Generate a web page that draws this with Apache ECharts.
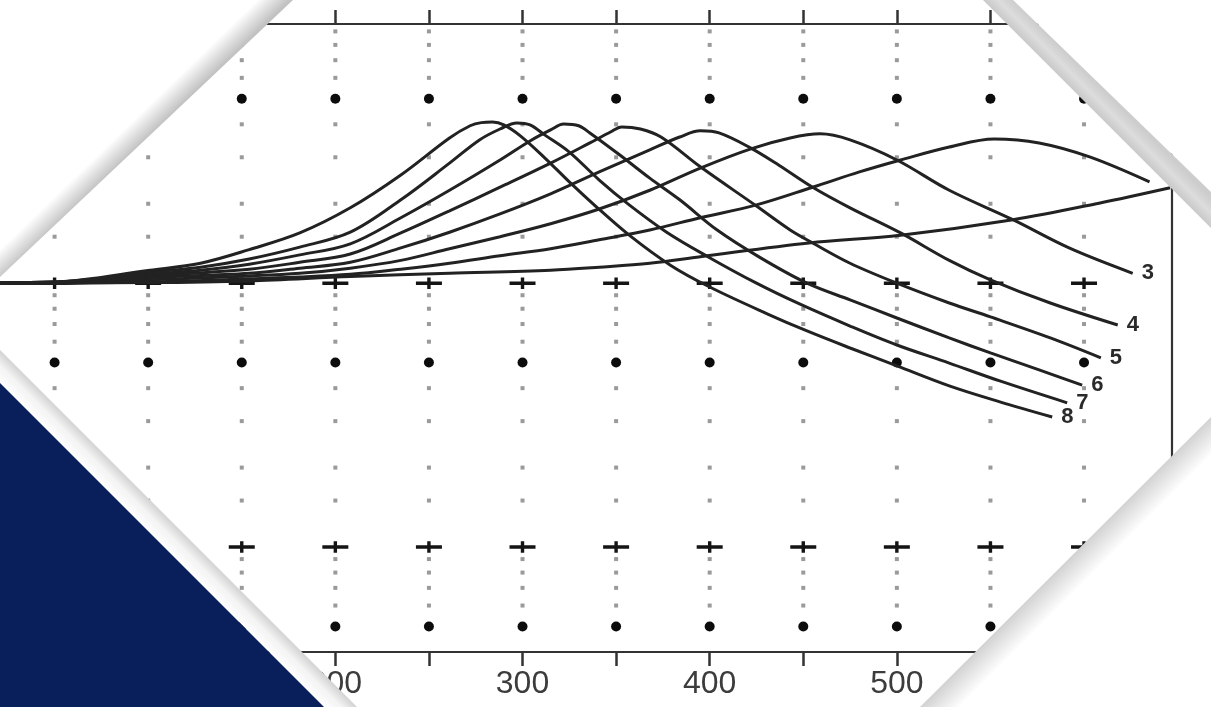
<!DOCTYPE html>
<html><head><meta charset="utf-8">
<script src="https://cdn.jsdelivr.net/npm/echarts@6/dist/echarts.min.js"></script>
<style>html,body{margin:0;padding:0;background:#fff}#c{width:1211px;height:707px}</style>
</head><body><div id="c"></div>
<script>
// ---- data (x, ratio on log scale) ----
const curve1 = [[0,1],[100,1.005],[154,1.02],[208,1.06],[261,1.09],[315,1.12],[341,1.15],[368,1.19],[395,1.26],[453,1.42],[502,1.52],[562,1.74],[608,2.01],[646,2.30]];
const curve2 = [[0,1],[100,1.01],[154,1.04],[181,1.055],[208,1.08],[235,1.13],[261,1.19],[288,1.27],[315,1.35],[341,1.46],[368,1.59],[395,1.77],[425,1.98],[455,2.31],[480,2.64],[502,2.93],[528,3.28],[552,3.52],[576,3.40],[603,3.01],[635,2.42]];
const curve3 = [[0,1],[50,1.0],[101,1.03],[154,1.065],[181,1.09],[208,1.14],[235,1.22],[261,1.35],[288,1.50],[315,1.68],[341,1.91],[368,2.25],[395,2.73],[422,3.23],[443,3.55],[459,3.68],[475,3.49],[500,2.93],[528,2.25],[562,1.74],[592,1.36],[626,1.09]];
const curve4 = [[0,1],[50,1.0],[101,1.05],[154,1.09],[181,1.14],[208,1.20],[235,1.36],[261,1.56],[288,1.83],[315,2.18],[341,2.64],[368,3.20],[384,3.58],[395,3.78],[405,3.71],[422,3.25],[437,2.80],[455,2.31],[475,1.93],[502,1.55],[528,1.22],[550,1.03],[582,0.841],[618,0.694]];
const curve5 = [[0,1],[50,1.0],[101,1.065],[154,1.13],[181,1.20],[208,1.29],[235,1.55],[261,1.88],[288,2.31],[315,2.85],[336,3.40],[347,3.74],[353,3.91],[363,3.84],[374,3.58],[395,2.76],[425,1.96],[443,1.59],[455,1.42],[475,1.19],[500,1.00],[528,0.841],[550,0.745],[582,0.620],[609,0.521]];
const curve6 = [[0,1],[50,1.01],[101,1.08],[128,1.12],[154,1.18],[181,1.28],[208,1.41],[235,1.77],[261,2.25],[288,2.93],[304,3.46],[315,3.81],[322,4.01],[330,3.95],[336,3.71],[352,3.06],[368,2.50],[384,2.07],[404,1.59],[427,1.25],[452,1.00],[475,0.864],[500,0.738],[528,0.620],[550,0.544],[576,0.469],[599,0.411]];
const curve7 = [[0,1],[50,1.01],[101,1.10],[128,1.15],[154,1.235],[181,1.37],[208,1.56],[235,2.07],[261,2.85],[277,3.49],[288,3.84],[297,4.05],[304,3.98],[312,3.64],[325,3.14],[341,2.46],[357,1.98],[377,1.56],[399,1.26],[425,1.00],[448,0.834],[475,0.688],[500,0.583],[528,0.498],[555,0.426],[591,0.352]];
const curve8 = [[0,1],[50,1.01],[101,1.12],[128,1.19],[154,1.34],[181,1.55],[208,1.93],[235,2.57],[261,3.55],[272,3.95],[278,4.06],[284,4.08],[290,3.98],[299,3.61],[312,2.98],[325,2.42],[339,1.96],[357,1.52],[379,1.17],[400,0.967],[431,0.764],[452,0.659],[475,0.568],[500,0.486],[528,0.408],[555,0.355],[583,0.311]];
const curveNames = ['1','2','3','4','5','6','7','8'];
const labelledCurves = ['3','4','5','6','7','8'];

// grid marks
const gridX = [50,100,150,200,250,300,350,400,450,500,550,600];
const minorDotY = [0.06,0.07,0.08,0.09,0.15,0.2,0.3,0.4,0.6,0.7,0.8,0.9,1.5,2,3,4,6,7,8,9];
const majorDotY = [0.05,0.5,5];
const crossY = [0.1,1];
const xLabelValues = [100,200,300,400,500,600];

function cross(xs, ys){ const out=[]; xs.forEach(x=>ys.forEach(y=>out.push([x,y]))); return out; }

const chart = echarts.init(document.getElementById('c'), null, {renderer:'canvas'});
const curves = [curve1,curve2,curve3,curve4,curve5,curve6,curve7,curve8];
const lineColor = '#222222';

const series = [
  {type:'scatter', data:cross(gridX, minorDotY), symbol:'rect', symbolSize:4, itemStyle:{color:'#9a9a9a', opacity:1}, z:1, silent:true},
  {type:'scatter', data:cross(gridX, majorDotY), symbol:'circle', symbolSize:10, itemStyle:{color:'#0c0c0c', opacity:1}, z:1, silent:true},
  {type:'scatter', data:cross(gridX, crossY), symbol:'path://M0,4H26V7.5H0Z M11.3,0H14.7V11.5H11.3Z', symbolSize:[26,11.5], itemStyle:{color:'#141414', opacity:1}, z:1, silent:true}
];
curves.forEach((d,i)=>{
  const nm = curveNames[i];
  series.push({
    type:'line', name:nm, data:d, smooth:0.35, symbol:'none', z:3,
    lineStyle:{color:lineColor, width:3},
    endLabel:{show: labelledCurves.includes(nm), formatter: nm, distance:9,
      fontSize:22, fontWeight:'bold', color:'#2a2a2a', fontFamily:'Liberation Sans, Arial, sans-serif'}
  });
});

const LG = echarts.graphic.LinearGradient;
chart.setOption({
  animation:false,
  backgroundColor:'#fff',
  grid:{left:-39, right:39, top:24, bottom:55, outerBoundsMode:'none', containLabel:false},
  xAxis:[
    {type:'value', position:'bottom', min:0, max:647, interval:50,
     axisLine:{show:true, onZero:false, lineStyle:{color:'#333', width:2.2}},
     axisTick:{show:true, length:14, lineStyle:{color:'#333', width:2.5}},
     splitLine:{show:false},
     axisLabel:{show:true, margin:16, fontSize:32, color:'#3c3c3c', fontFamily:'Liberation Sans, Arial, sans-serif',
       formatter:v=> xLabelValues.includes(v) ? String(v) : ''}},
    {type:'value', position:'top', min:0, max:647, interval:50,
     axisLine:{show:true, onZero:false, lineStyle:{color:'#333', width:2.2}},
     axisTick:{show:true, length:14, lineStyle:{color:'#333', width:2.5}},
     splitLine:{show:false}, axisLabel:{show:false}}
  ],
  yAxis:{type:'log', logBase:10, min:0.04, max:9.6, position:'right',
    axisLine:{show:true, onZero:false, lineStyle:{color:'#333', width:2.2}},
    axisTick:{show:false}, axisLabel:{show:false}, splitLine:{show:false}},
  series: series,
  graphic:[
    {type:'polygon', z:100, silent:true, shape:{points:[[0,0],[293,0],[0,277]]},
     style:{fill:new LG(146.5,138.5,131,122.5,[{offset:0,color:'#c2c2c2'},{offset:1,color:'#ffffff'}],true)}},
    {type:'polygon', z:100, silent:true, shape:{points:[[1013,0],[1211,0],[1211,192]]}, style:{fill:'#ffffff'}},
    {type:'polygon', z:101, silent:true, shape:{points:[[983,0],[1013,0],[1211,192],[1211,228]]},
     style:{fill:new LG(1097,114,1112,99,[{offset:0,color:'#c9c9c9'},{offset:0.5,color:'#dcdcdc'},{offset:1,color:'#cdcdcd'}],true)}},
    {type:'polygon', z:100, silent:true, shape:{points:[[1211,417],[1211,707],[920,707]]},
     style:{fill:new LG(1065.5,562,1085,581.5,[{offset:0,color:'#d2d2d2'},{offset:1,color:'#ffffff'}],true)}},
    {type:'polygon', z:100, silent:true, shape:{points:[[0,350],[357,707],[324,707],[0,383]]},
     style:{fill:new LG(100,450,83.5,466.5,[{offset:0,color:'#d2d2d2'},{offset:0.45,color:'#f3f3f3'},{offset:1,color:'#ffffff'}],true)}},
    {type:'polygon', z:101, silent:true, shape:{points:[[0,383],[324,707],[0,707]]}, style:{fill:'#081f5c'}}
  ]
});
</script>
</body></html>
